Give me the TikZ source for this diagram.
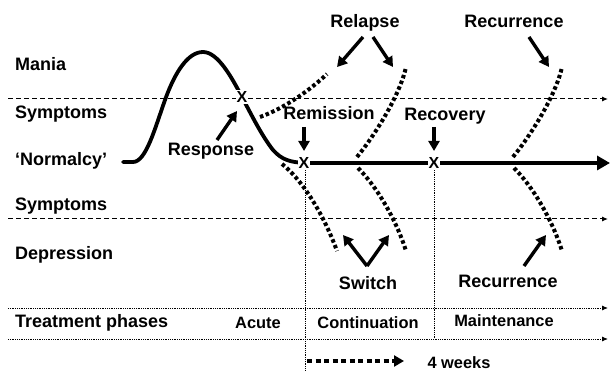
\documentclass[tikz,border=0pt]{standalone}
\usepackage{fontspec}
\setmainfont{Liberation Sans}
\usetikzlibrary{arrows.meta}
\begin{document}
\begin{tikzpicture}[x=1pt,y=-1pt,
  lbl/.style={font=\fontsize{18}{20}\selectfont\bfseries, inner sep=0pt, anchor=base},
  side/.style={lbl, anchor=base west},
  phase/.style={font=\fontsize{16.4}{18}\selectfont\bfseries, inner sep=0pt, anchor=base},
  xmark/.style={font=\fontsize{16}{16}\selectfont\bfseries, fill=white, inner sep=1pt},
  solidcurve/.style={line width=3.8pt, line cap=round},
  dotcurve/.style={line width=4pt, dash pattern=on 3.5pt off 2.6pt},
  dashline/.style={line width=1pt, dash pattern=on 5pt off 3pt, -{Latex[length=6pt,width=5pt]}},
  fineline/.style={line width=0.9pt, dash pattern=on 1pt off 0.8pt},
  finearrow/.style={fineline, -{Latex[length=6pt,width=5pt]}},
  pointer/.style={line width=3.4pt, -{Triangle[length=10pt,width=11pt]}},
]
\useasboundingbox (0,0) rectangle (611,371);

% key positions
\coordinate (pResp) at (242,97);
\coordinate (pRem) at (304,163);
\coordinate (pRec) at (434,163);
\coordinate (lineEnd) at (610,163);

% side labels
\node[side] (mania) at (15,71) {Mania};
\node[side] (symp1) at (15,119) {Symptoms};
\node[side] (norm) at (15,166) {`Normalcy'};
\node[side] (symp2) at (15,211) {Symptoms};
\node[side] (dep) at (15,260) {Depression};
\node[side] (treat) at (15,328) {Treatment phases};

% dashed symptom thresholds
\coordinate (d1s) at (8,99);
\coordinate (d1e) at (608,99);
\coordinate (d2s) at (8,219);
\coordinate (d2e) at (608,219);
\draw[dashline] (d1s) -- (d1e);
\draw[dashline] (d2s) -- (d2e);

% fine dotted phase lines
\coordinate (f1s) at (8,308);
\coordinate (f1e) at (608,308);
\coordinate (f2s) at (8,339);
\coordinate (f2e) at (608,339);
\draw[finearrow] (f1s) -- (f1e);
\draw[finearrow] (f2s) -- (f2e);
\coordinate (v1e) at (305,371);
\coordinate (v2e) at (434,339);
\draw[fineline] (305,170) -- (v1e);
\draw[fineline] (434,170) -- (v2e);

% phase labels
\node[phase] (acute) at (258,329) {Acute};
\node[phase] (cont) at (368,329) {Continuation};
\node[phase] (maint) at (504,327) {Maintenance};
\node[phase] (weeks) at (459,369) {4 weeks};
\coordinate (w1) at (307,361);
\coordinate (w2) at (404,361);
\draw[line width=3.8pt, dash pattern=on 5pt off 3.5pt, -{Triangle[length=10pt,width=11pt]}] (w1) -- (w2);

% dotted relapse / recurrence / switch curves
\draw[dotcurve] (260,117) .. controls (285,108) and (310,90) .. (327,74);
\draw[dotcurve] (357,157) .. controls (375,135) and (400,95) .. (406,67);
\draw[dotcurve] (513,157) .. controls (531,135) and (556,95) .. (562,67);
\draw[dotcurve] (282,164) .. controls (300,178) and (322,210) .. (337,251);
\draw[dotcurve] (358,168) .. controls (380,190) and (398,225) .. (406,251);
\draw[dotcurve] (514,168) .. controls (536,190) and (554,225) .. (562,251);

% illness course
\coordinate (start) at (123,162);
\draw[solidcurve] (start) -- (133,162)
  .. controls (146,162) and (155,128) .. (165,100)
  .. controls (175,72) and (188,52) .. (203,52)
  .. controls (218,52) and (232,78) .. (242,97)
  .. controls (252,116) and (262,136) .. (273,150)
  .. controls (282,160) and (290,162) .. (pRem);
\draw[line width=3.8pt, -{Triangle[length=13pt,width=14pt]}] (pRem) -- (lineEnd);

% X marks
\node[xmark] (xResp) at (pResp) {X};
\node[xmark] (xRem) at (pRem) {X};
\node[xmark] (xRec) at (pRec) {X};

% labels with pointers
\node[lbl] (response) at (211,156) {Response};
\draw[pointer] (217,140) -- (237,111);

\node[lbl] (remission) at (329,120) {Remission};
\draw[pointer] (304,127) -- (304,151);

\node[lbl] (recovery) at (445,121) {Recovery};
\draw[pointer] (434,127) -- (434,151);

\node[lbl] (relapse) at (365,28) {Relapse};
\draw[pointer] (363,37) -- (337,67);
\draw[pointer] (373,37) -- (393,67);

\node[lbl] (recurA) at (514,28) {Recurrence};
\draw[pointer] (529,37) -- (549,67);

\node[lbl] (switch) at (368,290) {Switch};
\coordinate (sw) at (367,266);
\draw[pointer] (sw) -- (343,235);
\draw[pointer] (sw) -- (389,235);

\node[lbl] (recurB) at (508,288) {Recurrence};
\draw[pointer] (524,266) -- (546,235);
\end{tikzpicture}
\end{document}
